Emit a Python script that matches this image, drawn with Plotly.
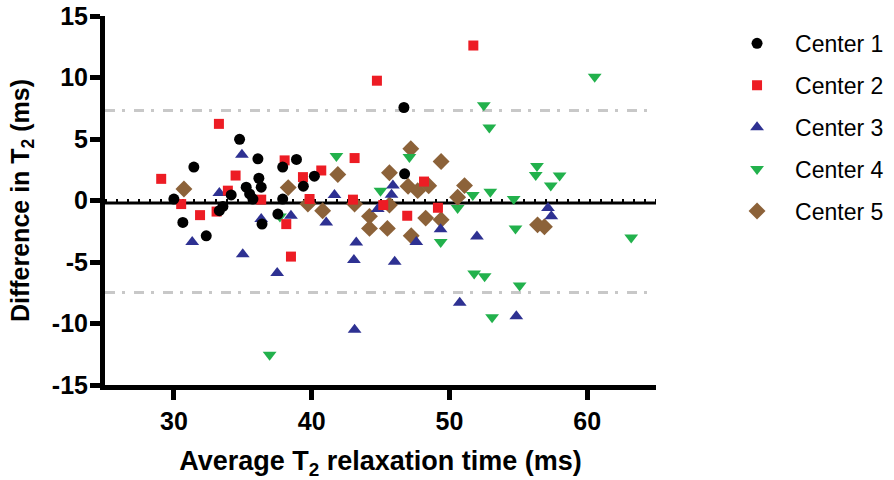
import plotly.graph_objects as go

# ---- data ----
c1_x = [30.0, 30.65, 31.45, 32.35, 33.3, 33.56, 34.16, 34.77, 35.25, 35.5, 35.74, 36.1, 36.17, 36.34, 36.4, 37.55, 37.9, 37.9, 38.9, 39.4, 40.2, 46.75, 46.7]
c1_y = [0.12, -1.78, 2.72, -2.87, -0.83, -0.48, 0.45, 4.97, 1.08, 0.53, 0.12, 3.39, 1.81, 1.08, -1.92, -1.1, 2.72, 0.12, 3.34, 1.16, 1.98, 2.17, 7.56]

c2_x = [29.08, 30.53, 31.9, 33.1, 33.27, 33.92, 34.48, 36.34, 38.04, 38.16, 38.5, 39.37, 39.85, 40.7, 43.0, 43.12, 44.74, 45.2, 46.94, 48.16, 49.17, 51.74]
c2_y = [1.76, -0.29, -1.19, -0.9, 6.23, 0.8, 2.03, 0.07, 3.26, -1.92, -4.56, 1.9, 0.12, 2.44, 0.07, 3.45, 9.74, -0.37, -1.24, 1.54, -0.59, 12.6]

c3_x = [31.33, 33.3, 34.94, 35.0, 36.34, 37.5, 38.5, 41.06, 41.66, 43.07, 43.12, 43.24, 44.8, 45.8, 45.9, 46.03, 47.6, 49.36, 50.75, 52.0, 54.86, 57.16, 57.4]
c3_y = [-3.37, 0.61, 3.72, -4.37, -1.5, -5.9, -1.24, -1.78, 0.45, -4.84, -10.5, -3.42, -0.7, 0.47, 1.21, -4.97, -3.37, -2.33, -8.32, -2.93, -9.42, -0.61, -1.29]

c4_x = [36.95, 37.7, 41.8, 45.0, 47.1, 49.37, 50.6, 51.7, 51.8, 52.5, 52.56, 52.9, 52.97, 53.1, 54.67, 54.8, 55.1, 56.27, 56.36, 57.36, 58.0, 60.55, 63.2]
c4_y = [-12.55, -1.3, 3.61, 0.8, 3.53, -3.37, -0.6, 0.45, -5.93, 7.75, -6.15, 5.93, 0.72, -9.5, 0.12, -2.27, -6.91, 2.08, 2.8, 1.21, 2.03, 10.07, -3.0]

c5_x = [30.73, 38.3, 39.73, 40.8, 41.9, 43.12, 44.2, 44.2, 45.5, 45.65, 45.65, 47.0, 47.2, 47.23, 47.7, 48.28, 48.5, 49.4, 49.4, 50.6, 51.1, 56.4, 56.9]
c5_y = [0.94, 1.05, -0.29, -0.83, 2.11, -0.29, -1.29, -2.27, -2.27, -0.37, 2.25, 1.16, 4.21, -2.87, 0.8, -1.43, 1.2, 3.17, -1.57, 0.26, 1.21, -1.98, -2.14]

names = ["Center 1", "Center 2", "Center 3", "Center 4", "Center 5"]
bias = -0.2
zero_ref = 0.0
loa_upper = 7.32
loa_lower = -7.48
x_ticks = [30, 40, 50, 60]
y_ticks = [15, 10, 5, 0, -5, -10, -15]

series = [
    (c1_x, c1_y, "circle", "#000000", 11),
    (c2_x, c2_y, "square", "#ED1C24", 10),
    (c3_x, c3_y, "triangle-up", "#2E3192", 12),
    (c4_x, c4_y, "triangle-down", "#22B14C", 12),
    (c5_x, c5_y, "diamond", "#8C6239", 13),
]

fig = go.Figure()
# draw Center 5 first so Center 1 ends on top; legend order via legendrank
for i in reversed(range(5)):
    xs, ys, sym, col, sz = series[i]
    fig.add_trace(go.Scatter(
        x=xs, y=ys, mode="markers", name=names[i], legendgroup=names[i],
        legendrank=i + 1,
        marker=dict(symbol=sym, color=col, size=sz, line=dict(width=0)),
    ))

# reference lines
dashdot = "10px,7px,3px,9px"
fig.add_shape(type="line", xref="paper", x0=0, x1=1, y0=loa_upper, y1=loa_upper,
              line=dict(color="#C8C8C8", width=3, dash=dashdot), layer="below")
fig.add_shape(type="line", xref="paper", x0=0, x1=1, y0=loa_lower, y1=loa_lower,
              line=dict(color="#C8C8C8", width=3, dash=dashdot), layer="below")
fig.add_shape(type="line", xref="paper", x0=0, x1=1, y0=zero_ref, y1=zero_ref,
              line=dict(color="#000000", width=3, dash="2px,9px"), layer="below")
fig.add_shape(type="line", xref="paper", x0=0, x1=1, y0=bias, y1=bias,
              line=dict(color="#000000", width=3), layer="below")

bold = dict(family="Liberation Sans, Arial, sans-serif", color="#000000", weight="bold")

fig.update_layout(
    width=894, height=480,
    margin=dict(l=105, r=238, t=16, b=95),
    paper_bgcolor="white", plot_bgcolor="white",
    showlegend=True,
    legend=dict(
        xref="container", x=0.8043, xanchor="left",
        yref="paper", y=0.984, yanchor="top",
        traceorder="grouped", tracegroupgap=9, itemwidth=66,
        font=dict(family="Liberation Sans, Arial, sans-serif", size=23, color="#000000"),
        bgcolor="rgba(0,0,0,0)",
    ),
    xaxis=dict(
        range=[25, 65], tickmode="array", tickvals=x_ticks,
        ticks="outside", ticklen=10, tickwidth=5, tickcolor="#000",
        showline=True, linewidth=5, linecolor="#000", mirror=False,
        showgrid=False, zeroline=False, automargin=False,
        tickfont=dict(size=25, **bold),
        title=dict(text="Average T<sub>2</sub> relaxation time (ms)", font=dict(size=27, **bold), standoff=22),
    ),
    yaxis=dict(
        range=[-15, 15], tickmode="array", tickvals=y_ticks,
        ticktext=[str(v) for v in y_ticks],
        ticks="outside", ticklen=10, tickwidth=5, tickcolor="#000",
        ticklabelstandoff=-3,
        showline=True, linewidth=5, linecolor="#000", mirror=False,
        showgrid=False, zeroline=False, automargin=False,
        tickfont=dict(size=25, **bold),
        title=dict(text="Difference in T<sub>2</sub> (ms)", font=dict(size=25, **bold), standoff=17),
    ),
)

fig.write_html("out.html")
